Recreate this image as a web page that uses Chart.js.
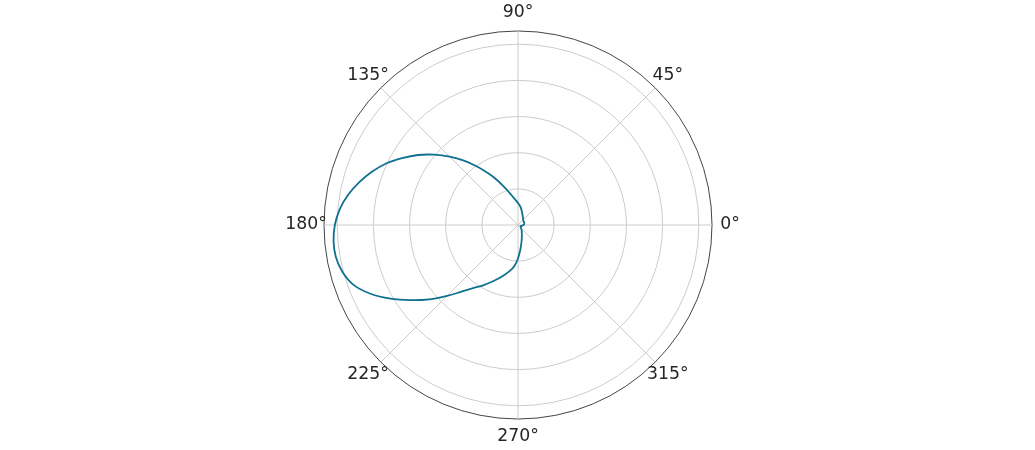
<!DOCTYPE html>
<html>
<head>
<meta charset="utf-8">
<script src="https://cdn.jsdelivr.net/npm/chart.js@4"></script>
<style>
  html, body { margin: 0; padding: 0; background: #fff; }
  #wrap { width: 1035px; height: 450px; }
</style>
</head>
<body>
<div id="wrap"><canvas id="polar"></canvas></div>
<script>
// sudut (derajat, 0 = kanan, berlawanan jarum jam) dan jari-jari kurva
const thetaDeg = [
  0, 5, 10, 15, 20, 25, 30, 35, 40, 45, 50, 55,
  60, 65, 70, 75, 80, 85, 90, 95, 100, 105, 110, 115,
  120, 125, 130, 135, 140, 145, 150, 155, 160, 165, 170, 175,
  180, 185, 190, 195, 200, 205, 210, 215, 220, 225, 230, 235,
  240, 245, 250, 255, 260, 265, 270, 275, 280, 285, 290, 295,
  300, 305, 310, 315, 320, 325, 330, 335, 340, 345, 350, 355
];
const rValues = [
  0.030, 0.033, 0.035, 0.036, 0.036, 0.036, 0.037, 0.037, 0.038, 0.040, 0.043, 0.048,
  0.054, 0.060, 0.068, 0.080, 0.095, 0.108, 0.122, 0.137, 0.157, 0.185, 0.225, 0.275,
  0.330, 0.395, 0.465, 0.535, 0.605, 0.675, 0.740, 0.805, 0.860, 0.910, 0.955, 0.990,
  1.013, 1.024, 1.023, 1.005, 0.968, 0.900, 0.815, 0.725, 0.640, 0.555, 0.480, 0.425,
  0.385, 0.348, 0.315, 0.285, 0.258, 0.228, 0.185, 0.140, 0.105, 0.080, 0.062, 0.050,
  0.042, 0.035, 0.028, 0.024, 0.021, 0.019, 0.017, 0.016, 0.016, 0.018, 0.022, 0.026
];
const angleTicks = [0, 45, 90, 135, 180, 225, 270, 315];
const radiusTicks = [0, 0.2, 0.4, 0.6, 0.8, 1.0];
const rMax = 1.073;

// radar Chart.js berputar searah jarum jam, jadi urutan dibalik
const n = thetaDeg.length;
const order = thetaDeg.map((_, i) => (n - i) % n);
const labels = order.map((k) => thetaDeg[k]);
const data = order.map((k) => rValues[k]);

// label sudut ditaruh di tengah, seperti matplotlib (bukan rata tepi)
const angleLabelPlugin = {
  id: "angleLabels",
  afterDraw(chart) {
    const scale = chart.scales.r;
    const c = chart.ctx;
    c.save();
    c.font = "17.3px 'DejaVu Sans'";
    c.fillStyle = "#262626";
    c.textAlign = "center";
    c.textBaseline = "middle";
    labels.forEach((deg, i) => {
      if (!angleTicks.includes(deg)) return;
      const p = scale.getPointPosition(i, scale.drawingArea + 18);
      c.fillText(deg + "°", p.x, p.y);
    });
    c.restore();
  },
};

const ctx = document.getElementById("polar").getContext("2d");
const chart = new Chart(ctx, {
  type: "radar",
  data: {
    labels: labels,
    datasets: [
      {
        data: data,
        borderColor: "#10708f",
        borderWidth: 1.8,
        pointRadius: 0,
        fill: false,
        tension: 0.35,
      },
    ],
  },
  options: {
    responsive: true,
    maintainAspectRatio: false,
    animation: false,
    layout: { padding: { top: 31, bottom: 30, left: 2 } },
    plugins: { legend: { display: false }, tooltip: { enabled: false } },
    scales: {
      r: {
        min: 0,
        max: rMax,
        startAngle: 90,
        afterBuildTicks: (s) => {
          s.ticks = radiusTicks.concat([rMax]).map((v) => ({ value: v }));
        },
        ticks: { display: false },
        grid: {
          circular: true,
          color: (c) => (c.tick && c.tick.value === rMax ? "#444444" : "#cccccc"),
          lineWidth: 1,
        },
        angleLines: {
          color: (c) => (angleTicks.includes(labels[c.index]) ? "#cccccc" : "rgba(0,0,0,0)"),
          lineWidth: 1,
        },
        pointLabels: { display: false },
      },
    },
  },
  plugins: [angleLabelPlugin],
});
</script>
</body>
</html>
